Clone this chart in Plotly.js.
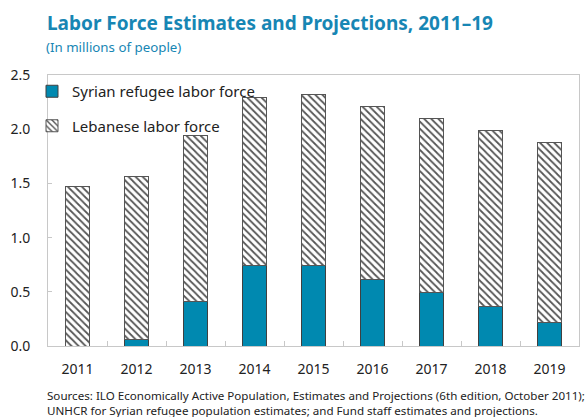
<!DOCTYPE html>
<html>
<head>
<meta charset="utf-8">
<script src="https://cdn.plot.ly/plotly-3.0.1.min.js"></script>
<style>html,body{margin:0;padding:0;background:#fff;}#chart{width:588px;height:417px;}</style>
</head>
<body>
<div id="chart"></div>
<script>
var years = ["2011","2012","2013","2014","2015","2016","2017","2018","2019"];
var syrian = [0.00, 0.06, 0.41, 0.74, 0.74, 0.61, 0.49, 0.36, 0.22];
var lebanese = [1.47, 1.50, 1.53, 1.55, 1.58, 1.60, 1.61, 1.63, 1.66];
var yTicks = [0, 0.5, 1.0, 1.5, 2.0, 2.5];
var yTickText = ["0.0","0.5","1.0","1.5","2.0","2.5"];

var FONT = "Noto Sans, Open Sans, sans-serif";
var BLUE = "#1786b4";

var traces = [
  {
    type: "bar", name: "Syrian refugee labor force", x: years, y: syrian,
    legendgroup: "a",
    marker: {color: "#0089b0", line: {color: "#404040", width: 1}},
    hoverinfo: "skip"
  },
  {
    type: "bar", name: "Lebanese labor force", x: years, y: lebanese,
    legendgroup: "b",
    marker: {color: "#ffffff", line: {color: "#555555", width: 1},
      pattern: {shape: "\\", fgcolor: "#555555", bgcolor: "#ffffff", size: 5, solidity: 0.35}},
    hoverinfo: "skip"
  }
];

var layout = {
  width: 588, height: 417,
  margin: {l: 48, r: 9, t: 75, b: 71},
  paper_bgcolor: "#fff", plot_bgcolor: "#fff",
  barmode: "stack", bargap: 0.59,
  font: {family: FONT, size: 14, color: "#222"},
  title: {text: "<b>Labor Force Estimates and Projections, 2011–19</b>",
    font: {family: FONT, size: 19, color: BLUE},
    x: 47/588, xanchor: "left", xref: "container",
    y: 1 - 23/417, yanchor: "middle", yref: "container"},
  showlegend: true,
  legend: {x: -16/531, y: 1, xanchor: "left", yanchor: "top", traceorder: "grouped",
    tracegroupgap: 12, bgcolor: "rgba(0,0,0,0)",
    font: {family: FONT, size: 15, color: "#222"}, itemwidth: 30},
  xaxis: {
    type: "category", showgrid: false, zeroline: false,
    showline: true, linecolor: "#c8c8c8", linewidth: 1, mirror: true,
    ticks: "inside", tickson: "boundaries", ticklen: 5, tickcolor: "#c8c8c8",
    tickfont: {family: FONT, size: 14, color: "#222"}, ticklabelstandoff: 10
  },
  yaxis: {
    range: [0, 2.5], tickvals: yTicks, ticktext: yTickText,
    showgrid: false, zeroline: false,
    showline: true, linecolor: "#c8c8c8", linewidth: 1, mirror: true,
    ticks: "inside", ticklen: 4, tickcolor: "#c8c8c8",
    tickfont: {family: FONT, size: 14, color: "#222"}, ticklabelstandoff: 14
  },
  annotations: [
    {text: "(In millions of people)", xref: "paper", yref: "paper",
     x: -4/531, y: (346-47)/271, xanchor: "left", yanchor: "middle", showarrow: false,
     font: {family: FONT, size: 13.3, color: BLUE}},
    {text: "Sources: ILO Economically Active Population, Estimates and Projections (6th edition, October 2011);<br>UNHCR for Syrian refugee population estimates; and Fund staff estimates and projections.",
     xref: "paper", yref: "paper", x: -3/531, y: (346-386)/271, xanchor: "left", yanchor: "top",
     align: "left", showarrow: false,
     font: {family: FONT, size: 11.6, color: "#222"}}
  ]
};

Plotly.newPlot("chart", traces, layout, {displayModeBar: false, staticPlot: true});
</script>
</body>
</html>
